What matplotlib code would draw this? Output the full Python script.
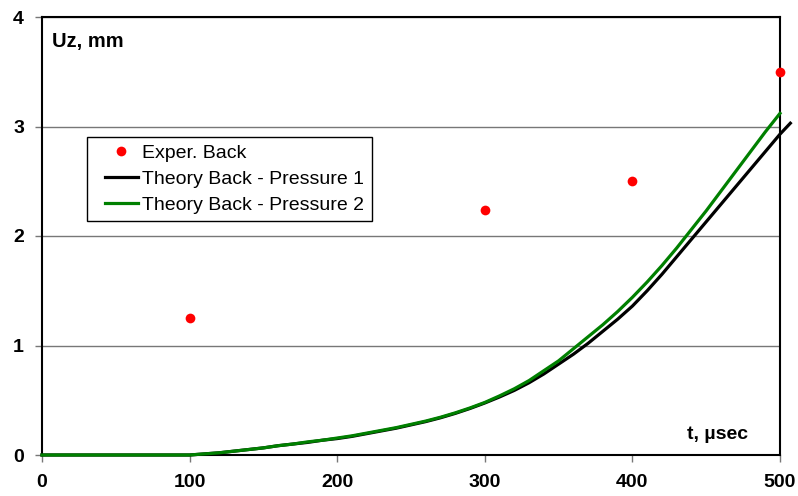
import matplotlib
matplotlib.use("Agg")
import matplotlib.pyplot as plt
from matplotlib.legend_handler import HandlerLine2D

plt.rcParams['font.family'] = ['Liberation Sans', 'DejaVu Sans']

# Experimental points
exp_t = [100, 300, 400, 500]
exp_uz = [1.25, 2.24, 2.50, 3.50]

# Theory Back - Pressure 1 (black)
p1_t = [0, 50, 100, 110, 120, 130, 140, 150, 160, 170, 180, 190, 200, 210, 220,
        230, 240, 250, 260, 270, 280, 290, 300, 310, 320, 330, 340, 350, 360,
        370, 380, 390, 400, 410, 420, 430, 440, 450, 460, 470, 480, 490, 500, 507]
p1_uz = [0, 0, 0, 0.01, 0.02, 0.035, 0.05, 0.065, 0.085, 0.10, 0.115, 0.135, 0.15,
         0.17, 0.195, 0.22, 0.245, 0.275, 0.305, 0.34, 0.38, 0.425, 0.475, 0.53,
         0.59, 0.66, 0.74, 0.83, 0.92, 1.02, 1.13, 1.24, 1.36, 1.50, 1.65, 1.81,
         1.97, 2.13, 2.29, 2.45, 2.61, 2.77, 2.93, 3.03]

# Theory Back - Pressure 2 (green)
p2_t = [0, 50, 100, 110, 120, 130, 140, 150, 160, 170, 180, 190, 200, 210, 220,
        230, 240, 250, 260, 270, 280, 290, 300, 310, 320, 330, 340, 350, 360,
        370, 380, 390, 400, 410, 420, 430, 440, 450, 460, 470, 480, 490, 500]
p2_uz = [0, 0, 0, 0.01, 0.02, 0.035, 0.05, 0.065, 0.085, 0.10, 0.12, 0.135, 0.155,
         0.175, 0.20, 0.225, 0.25, 0.28, 0.31, 0.345, 0.385, 0.43, 0.48, 0.54,
         0.605, 0.68, 0.77, 0.86, 0.97, 1.08, 1.19, 1.31, 1.44, 1.58, 1.73, 1.89,
         2.06, 2.23, 2.41, 2.59, 2.77, 2.95, 3.12]

x_ticks = [0, 100, 200, 300, 400, 500]
y_ticks = [0, 1, 2, 3, 4]

fig = plt.figure(figsize=(7.98, 4.96), dpi=100)
ax = fig.add_axes([42/798, 41/496, 738/798, 438/496])

ax.set_xlim(0, 500)
ax.set_ylim(0, 4)
ax.set_xticks(x_ticks)
ax.set_yticks(y_ticks)
ax.set_xticklabels([str(v) for v in x_ticks], fontsize=14, fontweight='bold')
ax.set_yticklabels([str(v) for v in y_ticks], fontsize=14, fontweight='bold')
ax.tick_params(axis='both', direction='out', length=5, width=1, color='#777777')
ax.tick_params(axis='x', pad=9)
ax.tick_params(axis='y', pad=8)

for sp in ax.spines.values():
    sp.set_color('black')
    sp.set_linewidth(1.5)

ax.yaxis.grid(True, color='#777777', linewidth=1.0)
ax.set_axisbelow(True)

ax.plot(exp_t, exp_uz, 'o', color='#ff0000', markersize=7, markeredgewidth=0,
        label='Exper. Back', clip_on=False, zorder=5)
ax.plot(p1_t, p1_uz, '-', color='black', linewidth=2.3,
        label='Theory Back - Pressure 1', clip_on=False, zorder=3)
ax.plot(p2_t, p2_uz, '-', color='#008000', linewidth=2.3,
        label='Theory Back - Pressure 2', clip_on=False, zorder=4)

hl = HandlerLine2D(xpad=0.5)
handles, labels = ax.get_legend_handles_labels()
leg = ax.legend(handles, labels, loc='upper left', bbox_to_anchor=(0.061, 0.727),
                fontsize=14, frameon=True, fancybox=False, framealpha=1,
                edgecolor='black', borderpad=0.4, labelspacing=0.42,
                handlelength=2.2, handletextpad=0.25, borderaxespad=0,
                handler_map={h: hl for h in handles})
leg.get_frame().set_linewidth(1.0)

ax.text(7, 3.78, 'Uz, mm', fontsize=14.5, fontweight='bold', ha='left', va='center')
ax.text(437, 0.19, 't, µsec', fontsize=14, fontweight='bold', ha='left', va='center')

fig.savefig('out.png', dpi=100)
